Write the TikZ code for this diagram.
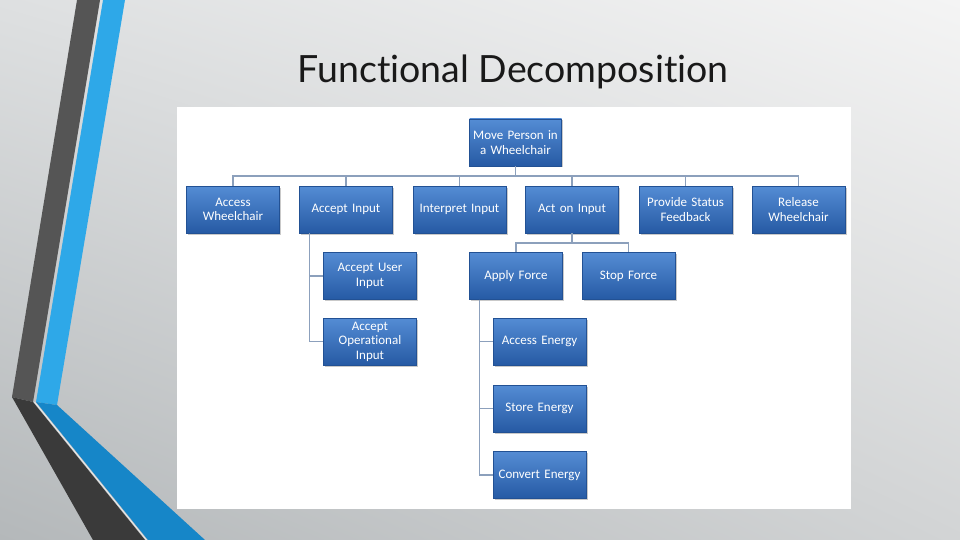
\documentclass[tikz,border=0pt]{standalone}
\usepackage{fontspec}
\setmainfont{Carlito}[Ligatures=NoCommon]
\newfontfamily\titlefont{Lato}[Ligatures=NoCommon]
\usetikzlibrary{shadows,shadings}
\definecolor{boxtop}{RGB}{84,140,212}
\definecolor{boxbot}{RGB}{38,90,164}
\definecolor{connc}{RGB}{140,160,188}
\definecolor{darkstripe}{RGB}{85,85,85}
\definecolor{darkstripeb}{RGB}{58,58,58}
\definecolor{bluestripe}{RGB}{46,168,232}
\definecolor{bluestripeb}{RGB}{22,134,200}
\definecolor{bgul}{RGB}{222,224,225}
\definecolor{bgur}{RGB}{244,244,244}
\definecolor{bgll}{RGB}{180,184,186}
\definecolor{bglr}{RGB}{210,212,213}
\tikzset{
  fbox/.style={rectangle, minimum width=93pt, minimum height=47pt, inner sep=1pt,
    text width=90pt, align=center, text=white, font=\fontsize{13}{14.5}\selectfont,
    top color=boxtop, bottom color=boxbot, draw=boxbot!90!black, line width=0.2pt,
    drop shadow={shadow xshift=1.5pt, shadow yshift=-1.5pt, opacity=0.35, fill=black!60}},
  conn/.style={draw=connc, line width=1.1pt}
}
\begin{document}
\begin{tikzpicture}[x=1pt, y=-1pt]
\useasboundingbox (0,0) rectangle (960,540);
% background
\shade[upper left=bgul, upper right=bgur, lower left=bgll, lower right=bglr]
  (0,0) rectangle (960,540);
% stripes
\fill[darkstripe] (77,0) -- (100,0) -- (33,402) -- (12,397) -- cycle;
\fill[darkstripeb] (12,397) -- (33,402) -- (145,540) -- (93,540) -- cycle;
\fill[bluestripe] (103,0) -- (125,0) -- (57,405) -- (36,402) -- cycle;
\fill[bluestripeb] (36,402) -- (57,405) -- (205,540) -- (148,540) -- cycle;
\draw[white!85!gray, line width=0.8pt] (34.5,402) -- (146.5,540);
% title
\node[font=\titlefont\fontsize{37.5}{42}\selectfont, text=black!90, anchor=base] (title) at (513,83) {Functional Decomposition};
% white panel
\fill[white] (177,107) rectangle (851,509);
% nodes
\node[fbox, minimum width=92pt] (root) at (515.5,142.5) {Move Person in a Wheelchair};
\node[fbox] (aw) at (233,209.5) {Access\\Wheelchair};
\node[fbox] (ai) at (346,209.5) {Accept Input};
\node[fbox] (ii) at (459.5,209.5) {Interpret Input};
\node[fbox] (ao) at (572,209.5) {Act on Input};
\node[fbox] (ps) at (685.5,209.5) {Provide Status\\Feedback};
\node[fbox] (rw) at (798.5,209.5) {Release\\Wheelchair};
\node[fbox] (au) at (370,276) {Accept User\\Input};
\node[fbox] (aop) at (370,341.5) {Accept\\Operational\\Input};
\node[fbox] (af) at (516,276) {Apply Force};
\node[fbox] (sf) at (628.5,276) {Stop Force};
\node[fbox] (ae) at (539.5,341.5) {Access Energy};
\node[fbox] (se) at (539.5,408.5) {Store Energy};
\node[fbox] (ce) at (539.5,475) {Convert Energy};
% connectors
\coordinate (bar) at (0,176);
\foreach \c in {aw,ai,ii,ao,ps,rw}{
  \draw[conn] (root.south) -- (root.south |- bar) -| (\c.north);
}
\foreach \c in {au,aop}{
  \draw[conn] ([xshift=10pt]ai.south west) |- (\c.west);
}
\coordinate (bar2) at (0,243);
\foreach \c in {af,sf}{
  \draw[conn] (ao.south) -- (ao.south |- bar2) -| (\c.north);
}
\foreach \c in {ae,se,ce}{
  \draw[conn] ([xshift=10pt]af.south west) |- (\c.west);
}
\end{tikzpicture}
\end{document}
